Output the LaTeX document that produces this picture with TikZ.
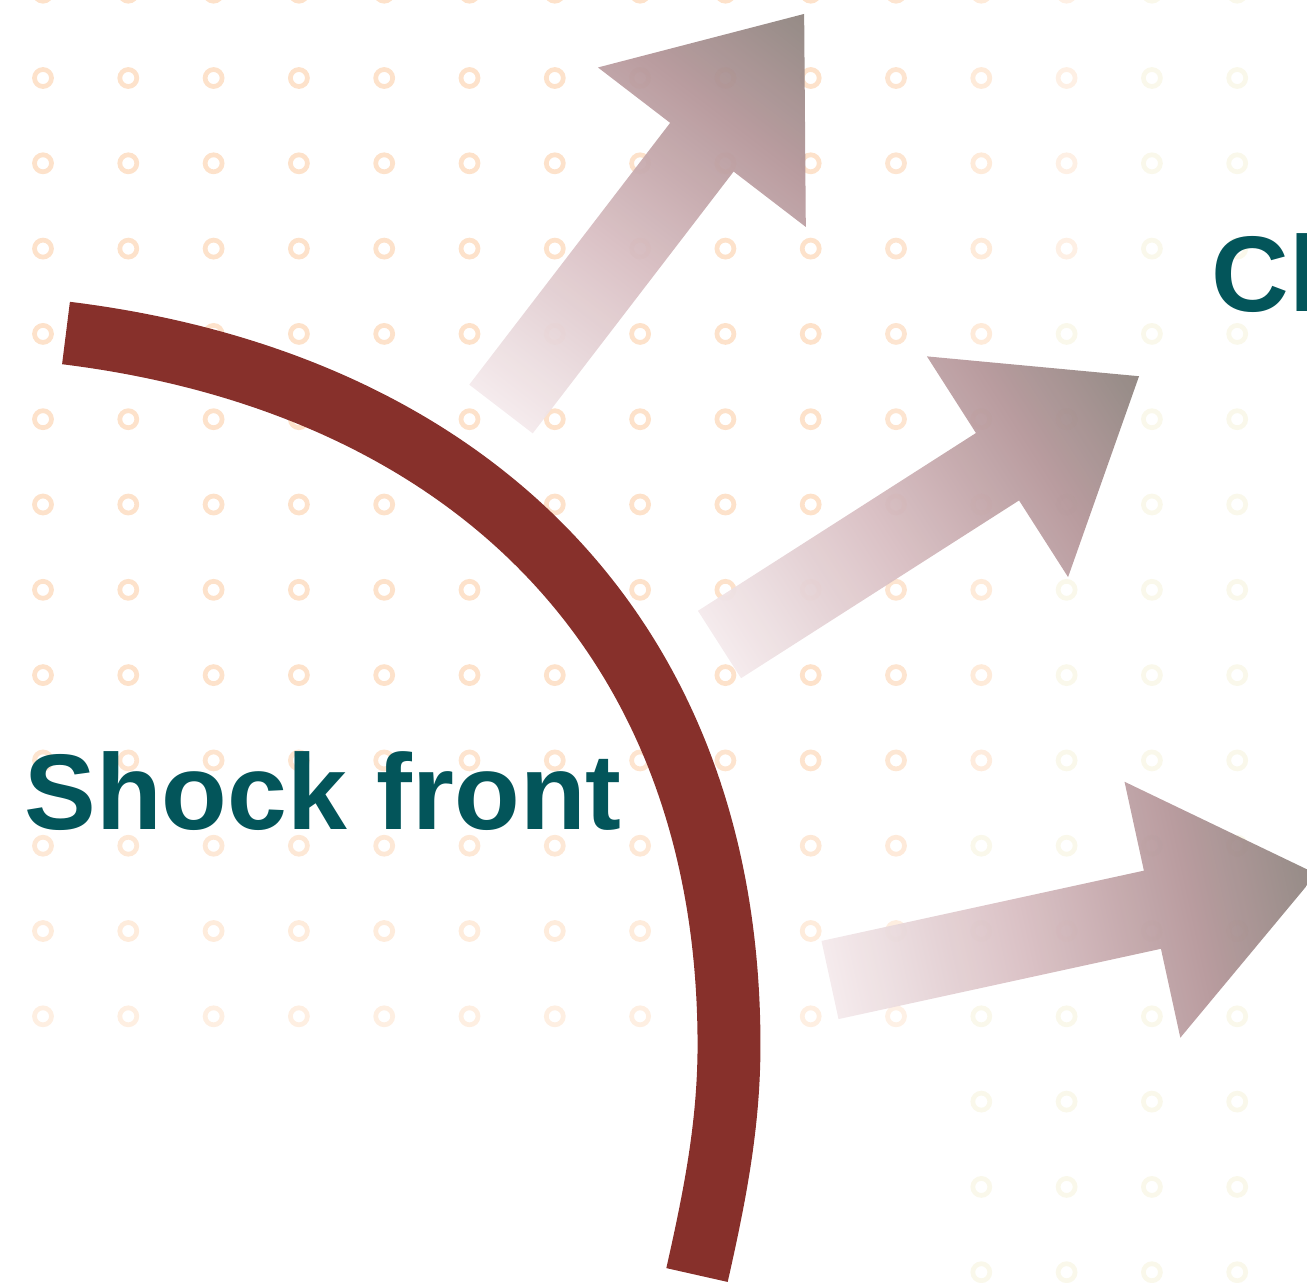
\documentclass[tikz,border=0pt]{standalone}
\usepackage{fontspec}
\setmainfont{Liberation Sans}
\definecolor{arccol}{HTML}{87302B}
\definecolor{txtcol}{HTML}{03555A}
\definecolor{dotorange}{HTML}{FDE2CB}
\definecolor{dotyellow}{HTML}{F6F4DE}
\definecolor{ashA}{HTML}{F4EAEC}
\definecolor{ashB}{HTML}{D8BEC2}
\definecolor{ashC}{HTML}{B5979A}
\definecolor{ashD}{HTML}{8F8580}
\pgfdeclarehorizontalshading{arrowshade}{100bp}{color(0bp)=(ashA); color(25bp)=(ashA); color(45bp)=(ashB); color(62bp)=(ashC); color(75bp)=(ashD); color(100bp)=(ashD)}
\tikzset{
  dotring/.style={line width=2.7pt},
  shockarc/.style={draw=arccol, line width=35.8pt},
  bigtext/.style={anchor=base west, inner sep=0pt, text=txtcol, font=\fontsize{61.2pt}{70pt}\selectfont\bfseries},
  blockarrow/.style={shading=arrowshade, fill opacity=0.95}
}
\newcommand{\flowarrow}[3]{%
  \begin{scope}[transform canvas={shift={(#1,#2)}, rotate=#3}]
    \shade[blockarrow] (0,-40) -- (330,-40) -- (330,-131) -- (498,0) -- (330,131) -- (330,40) -- (0,40) -- cycle;
  \end{scope}}
\begin{document}
\begin{tikzpicture}[x=0.02cm, y=-0.02cm]
\useasboundingbox (0,0) rectangle (1307,1282);
\clip (0,0) rectangle (1307,1282);
% dotted background
\foreach \i in {0,...,14}{
  \foreach \j in {-1,...,14}{
    \pgfmathsetmacro\dx{43+85.3*\i}
    \pgfmathsetmacro\dy{78+85.3*\j}
    \pgfmathtruncatemacro\show{or(\j<12,\i>10)}
    \pgfmathtruncatemacro\yel{(\dx+0.18*\dy>1124)}
    \ifnum\show=1
      \ifnum\yel=1
        \draw[dotring, draw=dotyellow, draw opacity=0.6] (\dx,\dy) circle[radius=8.5];
      \else
        \pgfmathsetmacro\opy{min(1,1-max(0,\dy-700)/316*0.45)}
        \pgfmathsetmacro\opx{1-max(0,\dx-850)/220*0.5}
        \pgfmathsetmacro\op{\opy*\opx}
        \draw[dotring, draw=dotorange, draw opacity=\op] (\dx,\dy) circle[radius=8.5];
      \fi
    \fi
  }
}
% arrows
\flowarrow{501}{409}{52.5}
\flowarrow{719.5}{644.5}{32.6}
\flowarrow{830}{980}{12.3}
% shock front arc
\coordinate (arcstart) at (66,333);
\coordinate (arcmid) at (729,1045);
\coordinate (arcend) at (697,1275);
\draw[shockarc] (arcstart) .. controls (463,382) and (729,630) .. (arcmid)
  .. controls (729,1125) and (714.6,1197) .. (arcend);
% labels
\node[bigtext] (shock) at (24,829) {Shock front};
\node[bigtext] (cl) at (1211,311) {Cl};
\end{tikzpicture}
\end{document}
